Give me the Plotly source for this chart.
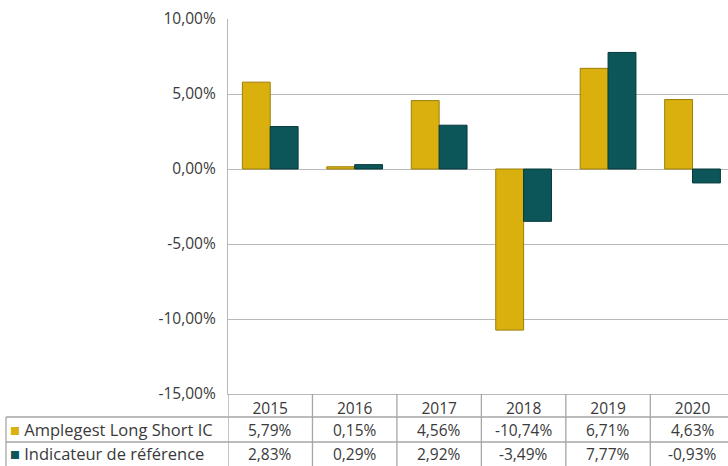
import plotly.graph_objects as go

years = ["2015", "2016", "2017", "2018", "2019", "2020"]
fund_name = "Amplegest Long Short IC"
bench_name = "Indicateur de référence"
fund_values = [5.79, 0.15, 4.56, -10.74, 6.71, 4.63]
bench_values = [2.83, 0.29, 2.92, -3.49, 7.77, -0.93]
fund_labels = ["5,79%", "0,15%", "4,56%", "-10,74%", "6,71%", "4,63%"]
bench_labels = ["2,83%", "0,29%", "2,92%", "-3,49%", "7,77%", "-0,93%"]
y_tick_vals = [10, 5, 0, -5, -10, -15]
y_tick_text = ["10,00%", "5,00%", "0,00%", "-5,00%", "-10,00%", "-15,00%"]

W, H = 728, 466
L, T, B = 228, 19, 72
plot_h = H - T - B
FONT = "Open Sans"
FS = 15.5
TXT = "#3a3a3a"
GOLD = "#D9B00E"
GOLD_EDGE = "#9C7F08"
TEAL = "#0C5558"
TEAL_EDGE = "#05393B"
GRID = "#B8B8B8"
TLINE = "#A6A6A6"

def py(p):
    return (H - B - p) / plot_h

fig = go.Figure()
fig.add_trace(go.Bar(x=years, y=fund_values, name=fund_name,
                     marker=dict(color=GOLD, line=dict(color=GOLD_EDGE, width=1))))
fig.add_trace(go.Bar(x=years, y=bench_values, name=bench_name,
                     marker=dict(color=TEAL, line=dict(color=TEAL_EDGE, width=1))))

shapes = []
for k in range(len(years)):
    shapes.append(dict(type="line", xref="x", yref="paper", x0=k - 0.5, x1=k - 0.5,
                       y0=0, y1=py(H), line=dict(color=TLINE, width=1.3)))
x_left = (6 - L) / (W - L)
shapes.append(dict(type="line", xref="paper", yref="paper", x0=x_left, x1=x_left,
                   y0=py(417), y1=py(H), line=dict(color=TLINE, width=1.3)))
for p in (417, 442):
    shapes.append(dict(type="line", xref="paper", yref="paper", x0=x_left, x1=1,
                       y0=py(p), y1=py(p), line=dict(color=TLINE, width=1.3)))

annotations = []
rows = [(fund_name, fund_labels, GOLD, 429.5), (bench_name, bench_labels, TEAL, 454)]
for name, labels, col, yc in rows:
    annotations.append(dict(xref="paper", yref="paper", x=(8 - L) / (W - L), y=py(yc),
                            xanchor="left", yanchor="middle", showarrow=False,
                            text=f"<span style='color:{col}'>■</span> {name}",
                            font=dict(family=FONT, size=16.5, color=TXT)))
    for i, lab in enumerate(labels):
        annotations.append(dict(xref="x", yref="paper", x=i, y=py(yc),
                                xanchor="center", yanchor="middle", showarrow=False,
                                text=lab, font=dict(family=FONT, size=FS, color=TXT)))

fig.update_layout(
    width=W, height=H,
    margin=dict(l=L, r=0, t=T, b=B),
    paper_bgcolor="white", plot_bgcolor="white",
    barmode="group", bargap=0.34, bargroupgap=0,
    showlegend=False,
    font=dict(family=FONT, size=FS, color=TXT),
    shapes=shapes, annotations=annotations,
    xaxis=dict(type="category", range=[-0.5, 5.42], showgrid=False,
               showline=True, linecolor=GRID, linewidth=1.3,
               ticks="", tickfont=dict(family=FONT, size=FS, color=TXT),
               ticklabelstandoff=0),
    yaxis=dict(range=[-15, 10], tickvals=y_tick_vals, ticktext=y_tick_text,
               showgrid=True, gridcolor=GRID, gridwidth=1.3, zeroline=False,
               showline=True, linecolor=GRID, linewidth=1.3, mirror=False,
               ticks="", ticklabelstandoff=8,
               tickfont=dict(family=FONT, size=FS, color=TXT)),
)
fig.write_html("out.html", config={"displayModeBar": False},
               post_script="document.body.style.margin='0';document.body.style.overflow='hidden';")
